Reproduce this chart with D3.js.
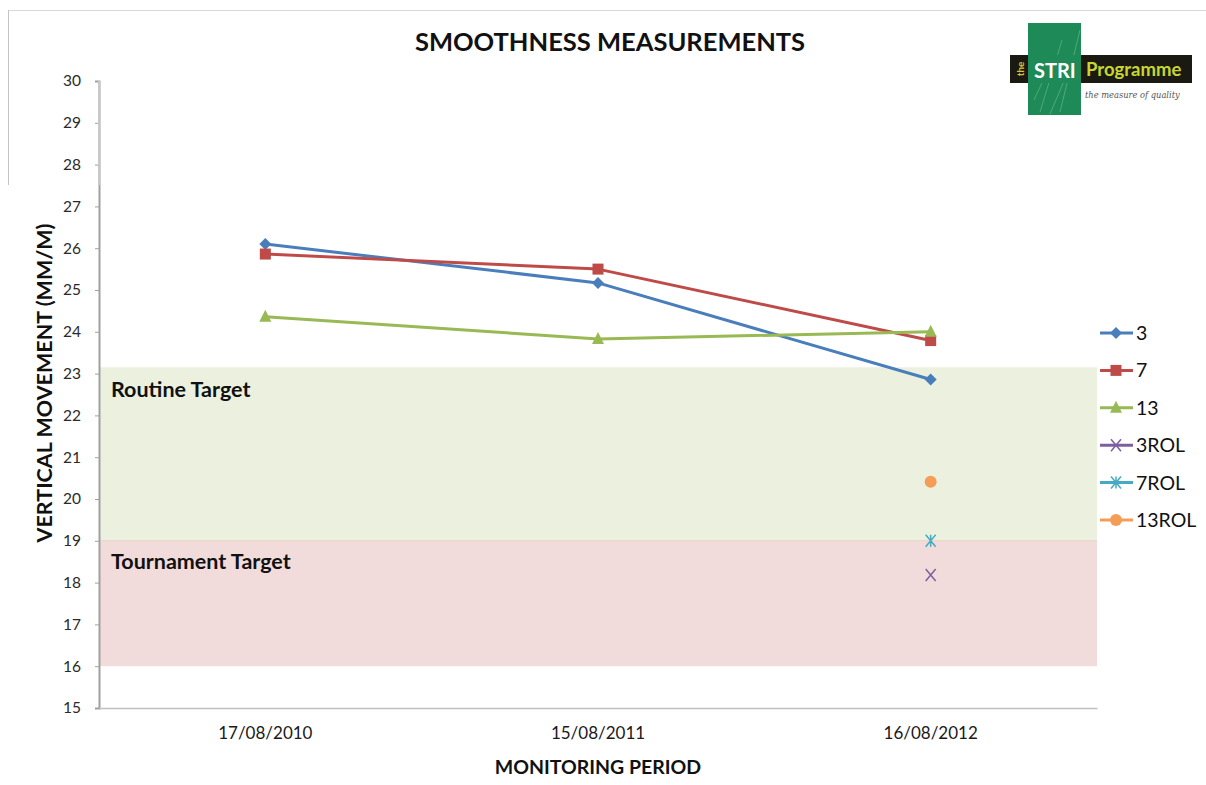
<!DOCTYPE html>
<html><head><meta charset="utf-8">
<script src="https://cdn.jsdelivr.net/npm/d3@7/dist/d3.min.js"></script>
<style>
html,body{margin:0;padding:0;background:#fff;}
svg{display:block;font-family:Lato,"Open Sans",sans-serif;}
</style></head>
<body>
<svg id="chart" width="1206" height="785"></svg>
<script>
const categories = ["17/08/2010", "15/08/2011", "16/08/2012"];
const seriesNames = ["3", "7", "13", "3ROL", "7ROL", "13ROL"];
const s3 = [26.1, 25.17, 22.86];
const s7 = [25.86, 25.5, 23.79];
const s13 = [24.36, 23.83, 24.0];
const s3ROL = [null, null, 18.18];
const s7ROL = [null, null, 19.0];
const s13ROL = [null, null, 20.41];
const yTicks = [15,16,17,18,19,20,21,22,23,24,25,26,27,28,29,30];
const yTickLabels = ["15","16","17","18","19","20","21","22","23","24","25","26","27","28","29","30"];
const routineBand = [19, 23.15];
const tournamentBand = [16, 19];

const colors = ["#4A7EBB", "#BE4B48", "#98B954", "#7D5FA0", "#46AAC5", "#F59D56"];
const symbols = ["diamond", "square", "triangle", "x", "star", "circle"];
const seriesValues = [s3, s7, s13, s3ROL, s7ROL, s13ROL];

const svg = d3.select("#chart");
const pLeft = 99, pRight = 1097, pTop = 81, pBottom = 708;

const x = d3.scaleBand().domain(categories).range([pLeft, pRight]);
const y = d3.scaleLinear().domain([15, 30]).range([pBottom, pTop]);

// frame remnants
svg.append("line").attr("x1", 8).attr("x2", 1206).attr("y1", 10.5).attr("y2", 10.5).attr("stroke", "#d8d8d8");
svg.append("line").attr("x1", 8.5).attr("x2", 8.5).attr("y1", 10).attr("y2", 185).attr("stroke", "#c4c4c4");

// bands
svg.append("rect").attr("x", pLeft + 1).attr("width", pRight - pLeft - 1)
  .attr("y", y(routineBand[1])).attr("height", y(routineBand[0]) - y(routineBand[1]))
  .attr("fill", "#EBF1DE");
svg.append("rect").attr("x", pLeft + 1).attr("width", pRight - pLeft - 1)
  .attr("y", y(tournamentBand[1])).attr("height", y(tournamentBand[0]) - y(tournamentBand[1]))
  .attr("fill", "#F2DCDB");
svg.append("line").attr("x1", pLeft + 1).attr("x2", pRight).attr("y1", y(19)).attr("y2", y(19))
  .attr("stroke", "#ead9c9").attr("stroke-width", 1.5);

svg.append("text").attr("x", 111).attr("y", y(routineBand[1]) + 30)
  .attr("font-weight", "bold").attr("font-size", 21.5).attr("fill", "#111").text("Routine Target");
svg.append("text").attr("x", 111).attr("y", y(tournamentBand[1]) + 28)
  .attr("font-weight", "bold").attr("font-size", 21.5).attr("fill", "#111").text("Tournament Target");

// y axis
const yAxis = d3.axisLeft(y).tickValues(yTicks).tickSize(4).tickPadding(14)
  .tickFormat((d, i) => yTickLabels[i]);
const gy = svg.append("g").attr("transform", `translate(${pLeft},0)`).call(yAxis);
gy.select(".domain").attr("stroke", "#a0a0a0").attr("stroke-width", 2);
gy.selectAll(".tick line").attr("stroke", "#a0a0a0");
gy.selectAll(".tick text").attr("font-size", 15.5).attr("fill", "#2a2a2a").attr("font-family", "Lato,sans-serif");
svg.append("line").attr("x1", pLeft).attr("x2", pLeft).attr("y1", pTop).attr("y2", 185)
  .attr("stroke", "#c8c8c8").attr("stroke-width", 2);

// x axis
const xAxis = d3.axisBottom(x).tickSize(0).tickPadding(19);
const gx = svg.append("g").attr("transform", `translate(0,${pBottom})`).call(xAxis);
gx.select(".domain").attr("stroke", "#c0c0c0").attr("stroke-width", 1.5);
gx.selectAll(".tick text").attr("font-size", 17).attr("fill", "#1a1a1a").attr("font-family", "Lato,sans-serif");

// titles
svg.append("text").attr("x", 610).attr("y", 51).attr("text-anchor", "middle")
  .attr("font-weight", "bold").attr("font-size", 25.5).attr("fill", "#111").text("SMOOTHNESS MEASUREMENTS");
svg.append("text").attr("x", 598).attr("y", 774).attr("text-anchor", "middle")
  .attr("font-weight", "bold").attr("font-size", 19.5).attr("fill", "#111").text("MONITORING PERIOD");
svg.append("text").attr("transform", `translate(52,383) rotate(-90)`).attr("text-anchor", "middle")
  .attr("font-weight", "bold").attr("font-size", 21.5).attr("fill", "#111").text("VERTICAL MOVEMENT (MM/M)");

function drawMarker(g, type, cx, cy, color) {
  if (type === "diamond") {
    g.append("path").attr("d", `M${cx},${cy-6}L${cx+6},${cy}L${cx},${cy+6}L${cx-6},${cy}Z`).attr("fill", color);
  } else if (type === "square") {
    g.append("rect").attr("x", cx-5.5).attr("y", cy-5.5).attr("width", 11).attr("height", 11).attr("fill", color);
  } else if (type === "triangle") {
    g.append("path").attr("d", `M${cx},${cy-7}L${cx+6},${cy+5}L${cx-6},${cy+5}Z`).attr("fill", color);
  } else if (type === "x") {
    g.append("path").attr("d", `M${cx-5},${cy-6}L${cx+5},${cy+6}M${cx+5},${cy-6}L${cx-5},${cy+6}`)
      .attr("stroke", color).attr("stroke-width", 1.5).attr("fill", "none");
  } else if (type === "star") {
    g.append("path").attr("d", `M${cx-5},${cy-6}L${cx+5},${cy+6}M${cx+5},${cy-6}L${cx-5},${cy+6}M${cx},${cy-6}L${cx},${cy+6}`)
      .attr("stroke", color).attr("stroke-width", 1.5).attr("fill", "none");
  } else if (type === "circle") {
    g.append("circle").attr("cx", cx).attr("cy", cy).attr("r", 6).attr("fill", color);
  }
}

const cxOf = d => x(d) + x.bandwidth() / 2;
seriesValues.forEach((vals, si) => {
  const g = svg.append("g");
  const pts = vals.map((v, i) => ({c: categories[i], v})).filter(p => p.v !== null);
  if (pts.length > 1) {
    g.append("path").datum(pts)
      .attr("d", d3.line().x(p => cxOf(p.c)).y(p => y(p.v)))
      .attr("fill", "none").attr("stroke", colors[si]).attr("stroke-width", 3).attr("stroke-linejoin", "round");
  }
  pts.forEach(p => drawMarker(g, symbols[si], cxOf(p.c), y(p.v), colors[si]));
});

// legend
const legendY = d3.scalePoint().domain(seriesNames).range([333, 520]);
seriesNames.forEach((n, i) => {
  const g = svg.append("g");
  const ly = legendY(n);
  g.append("line").attr("x1", 1100).attr("x2", 1133).attr("y1", ly).attr("y2", ly)
    .attr("stroke", colors[i]).attr("stroke-width", 3);
  drawMarker(g, symbols[i], 1116, ly, colors[i]);
  g.append("text").attr("x", 1136).attr("y", ly + 7).attr("font-size", 19.5).attr("fill", "#111").text(n);
});

// logo
const logo = svg.append("g");
logo.append("rect").attr("x", 1028).attr("y", 23).attr("width", 53).attr("height", 92).attr("fill", "#1E8A57");
[[1040,112,1062,40],[1050,114,1075,55],[1034,100,1048,70],[1060,112,1080,30]].forEach(l => {
  logo.append("line").attr("x1", l[0]).attr("y1", l[1]).attr("x2", l[2]).attr("y2", l[3])
    .attr("stroke", "#6fbf8a").attr("stroke-width", 1).attr("opacity", 0.6);
});
logo.append("rect").attr("x", 1010).attr("y", 55).attr("width", 182).attr("height", 28).attr("fill", "#1a1a12");
logo.append("rect").attr("x", 1028).attr("y", 55).attr("width", 53).attr("height", 28).attr("fill", "#1E8A57");
logo.append("text").attr("transform", "translate(1024,69) rotate(-90)").attr("text-anchor", "middle")
  .attr("font-size", 10).attr("font-weight", "bold").attr("fill", "#d8c43a").text("the");
logo.append("text").attr("x", 1034).attr("y", 78).attr("font-size", 20).attr("font-weight", "bold")
  .attr("fill", "#fff").text("STRI");
logo.append("text").attr("x", 1086).attr("y", 76).attr("font-size", 18.5).attr("font-weight", "bold")
  .attr("fill", "#c9d62e").text("Programme");
logo.append("text").attr("x", 1085).attr("y", 98).attr("font-size", 8.3).attr("font-style", "italic")
  .attr("fill", "#555").attr("font-family", "DejaVu Serif,serif").text("the measure of quality");
</script>
</body></html>
